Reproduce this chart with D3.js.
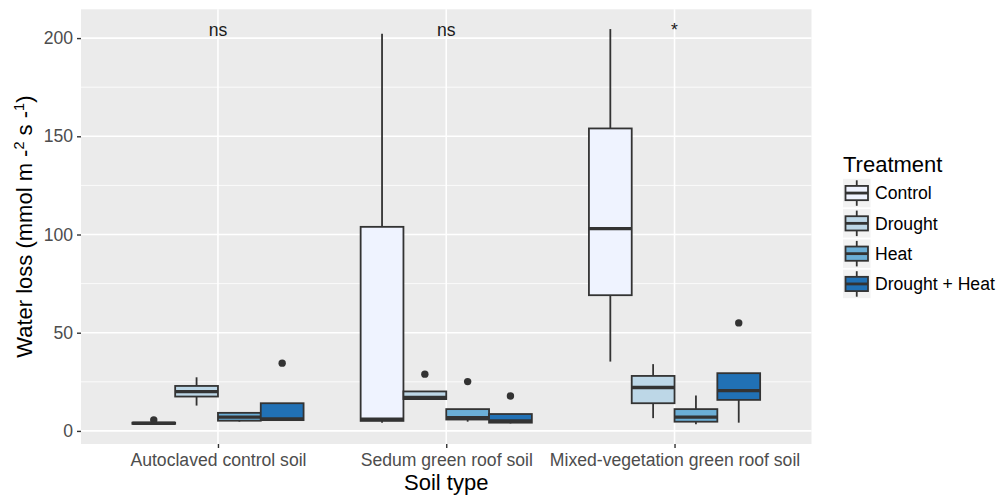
<!DOCTYPE html>
<html>
<head>
<meta charset="utf-8">
<script src="https://cdn.jsdelivr.net/npm/d3@7"></script>
<style>
  html, body { margin: 0; padding: 0; background: #ffffff; }
  svg { display: block; font-family: "Liberation Sans", Arial, Helvetica, sans-serif; }
</style>
</head>
<body>
<svg id="chart" width="997" height="496"></svg>
<script>
// Soil types on the x axis and treatments dodged within each soil type
const soils = ["Autoclaved control soil", "Sedum green roof soil", "Mixed-vegetation green roof soil"];
const treatments = ["Control", "Drought", "Heat", "Drought + Heat"];
const fills = ["#EFF3FF", "#BDD7E7", "#6BAED6", "#2171B5"];

// Box statistics, one row per soil type, one column per treatment
const whiskerLow = [
  [3.4, 12.9, 4.7, 5.2],
  [4.2, 15.8, 4.7, 3.8],
  [35.3, 6.5, 3.4, 4.2]
];
const q1 = [
  [3.6, 17.5, 5.2, 5.5],
  [5.1, 16.2, 5.8, 4.2],
  [69.1, 14.1, 4.7, 15.8]
];
const median = [
  [3.9, 20.0, 7.0, 6.1],
  [6.0, 17.0, 6.7, 5.1],
  [103.0, 22.1, 7.0, 20.5]
];
const q3 = [
  [4.2, 22.9, 9.2, 14.1],
  [103.9, 20.1, 11.1, 8.6],
  [154.0, 28.0, 11.1, 29.4]
];
const whiskerHigh = [
  [4.4, 27.3, 9.2, 14.1],
  [202.2, 20.1, 11.1, 8.6],
  [204.6, 34.0, 18.0, 29.4]
];
// Outlying points: [soil index, treatment index, value]
const outliers = [
  [0, 0, 5.6],
  [0, 3, 34.5],
  [1, 1, 28.9],
  [1, 2, 25.1],
  [1, 3, 17.8],
  [2, 3, 55.0]
];
// Significance labels above each soil type
const sigLabels = ["ns", "ns", "*"];
const sigLabelY = 205;

const yTicks = [0, 50, 100, 150, 200];
const yMinor = [25, 75, 125, 175];

const svg = d3.select("#chart");
const panel = { left: 81, right: 811.5, top: 9.3, bottom: 444 };
const tickFont = 17.6, titleFont = 22;

// y domain: data range with 5% expansion on each side
const allVals = [].concat(...whiskerLow, ...whiskerHigh, outliers.map(d => d[2]));
const [vMin, vMax] = d3.extent(allVals);
const pad = (vMax - vMin) * 0.05;
const y = d3.scaleLinear().domain([vMin - pad, vMax + pad]).range([panel.bottom, panel.top]);

const x = d3.scalePoint().domain(soils).range([panel.left, panel.right]).padding(0.6);
const step = x.step();
const dodge = d3.scaleBand().domain(treatments).range([-0.375 * step, 0.375 * step]);
const boxW = dodge.bandwidth();

// Panel background and grid
svg.append("rect")
  .attr("x", panel.left).attr("y", panel.top)
  .attr("width", panel.right - panel.left).attr("height", panel.bottom - panel.top)
  .attr("fill", "#EBEBEB");

const grid = svg.append("g");
grid.selectAll("line.minor").data(yMinor).enter().append("line")
  .attr("x1", panel.left).attr("x2", panel.right)
  .attr("y1", d => y(d)).attr("y2", d => y(d))
  .attr("stroke", "#ffffff").attr("stroke-width", 0.8);
grid.selectAll("line.majorY").data(yTicks).enter().append("line")
  .attr("x1", panel.left).attr("x2", panel.right)
  .attr("y1", d => y(d)).attr("y2", d => y(d))
  .attr("stroke", "#ffffff").attr("stroke-width", 1.6);
grid.selectAll("line.majorX").data(soils).enter().append("line")
  .attr("x1", d => x(d)).attr("x2", d => x(d))
  .attr("y1", panel.top).attr("y2", panel.bottom)
  .attr("stroke", "#ffffff").attr("stroke-width", 1.6);

// Build one record per box
const boxes = [];
soils.forEach((s, i) => treatments.forEach((t, j) => {
  boxes.push({
    soil: s, trt: t, fill: fills[j],
    lw: whiskerLow[i][j], q1: q1[i][j], med: median[i][j], q3: q3[i][j], uw: whiskerHigh[i][j],
    cx: x(s) + dodge(t) + boxW / 2
  });
}));

const ink = "#333333";
const lineW = 1.8;
const gBoxes = svg.append("g");
const gb = gBoxes.selectAll("g.box").data(boxes).enter().append("g");
gb.append("line")
  .attr("x1", d => d.cx).attr("x2", d => d.cx)
  .attr("y1", d => y(d.uw)).attr("y2", d => y(d.q3))
  .attr("stroke", ink).attr("stroke-width", lineW);
gb.append("line")
  .attr("x1", d => d.cx).attr("x2", d => d.cx)
  .attr("y1", d => y(d.q1)).attr("y2", d => y(d.lw))
  .attr("stroke", ink).attr("stroke-width", lineW);
gb.append("rect")
  .attr("x", d => d.cx - boxW / 2).attr("width", boxW)
  .attr("y", d => y(d.q3)).attr("height", d => Math.max(0, y(d.q1) - y(d.q3)))
  .attr("fill", d => d.fill).attr("stroke", ink).attr("stroke-width", lineW);
gb.append("line")
  .attr("x1", d => d.cx - boxW / 2).attr("x2", d => d.cx + boxW / 2)
  .attr("y1", d => y(d.med)).attr("y2", d => y(d.med))
  .attr("stroke", ink).attr("stroke-width", 3.4);

// Outliers
svg.append("g").selectAll("circle").data(outliers).enter().append("circle")
  .attr("cx", d => x(soils[d[0]]) + dodge(treatments[d[1]]) + boxW / 2)
  .attr("cy", d => y(d[2]))
  .attr("r", 3.7)
  .attr("fill", ink);

// Significance labels
svg.append("g").selectAll("text").data(sigLabels).enter().append("text")
  .attr("x", (d, i) => x(soils[i]))
  .attr("y", y(sigLabelY))
  .attr("dy", "0.45em")
  .attr("text-anchor", "middle")
  .attr("font-size", tickFont)
  .attr("fill", "#1a1a1a")
  .text(d => d);

// Axes
const yAxis = d3.axisLeft(y).tickValues(yTicks).tickSize(4).tickPadding(4);
const gy = svg.append("g").attr("transform", `translate(${panel.left},0)`).call(yAxis);
const xAxis = d3.axisBottom(x).tickSize(4).tickPadding(6);
const gx = svg.append("g").attr("transform", `translate(0,${panel.bottom})`).call(xAxis);
[gx, gy].forEach(g => {
  g.select(".domain").remove();
  g.selectAll(".tick line").attr("stroke", ink).attr("stroke-width", 1.4);
  g.selectAll(".tick text").attr("fill", "#4D4D4D").attr("font-size", tickFont)
    .attr("font-family", "\"Liberation Sans\", Arial, sans-serif");
});
gx.selectAll(".tick text").attr("dy", "0.71em");

// Axis titles
svg.append("text")
  .attr("x", (panel.left + panel.right) / 2).attr("y", 490)
  .attr("text-anchor", "middle").attr("font-size", titleFont).attr("fill", "#000")
  .text("Soil type");

const yt = svg.append("text")
  .attr("transform", `translate(31.5,${(panel.top + panel.bottom) / 2}) rotate(-90)`)
  .attr("text-anchor", "middle").attr("font-size", titleFont).attr("fill", "#000");
yt.append("tspan").text("Water loss (mmol m -");
yt.append("tspan").attr("dy", -8).attr("font-size", 14.5).text("2");
yt.append("tspan").attr("dy", 8).text(" s -");
yt.append("tspan").attr("dy", -8).attr("font-size", 14.5).text("1");
yt.append("tspan").attr("dy", 8).text(")");

// Legend
const lg = svg.append("g").attr("transform", "translate(843,0)");
lg.append("text").attr("x", 0).attr("y", 172).attr("font-size", titleFont).attr("fill", "#000").text("Treatment");
const keyW = 27.5, keyH = 28.5, keyStep = 30.3, keyTop = 178.8;
const items = lg.selectAll("g.item").data(treatments).enter().append("g")
  .attr("transform", (d, i) => `translate(0,${keyTop + i * keyStep})`);
items.append("rect").attr("width", keyW).attr("height", keyH).attr("fill", "#F2F2F2");
items.append("line").attr("x1", keyW / 2).attr("x2", keyW / 2).attr("y1", 1.5).attr("y2", keyH - 1.5)
  .attr("stroke", ink).attr("stroke-width", lineW);
items.append("rect").attr("x", 2.5).attr("width", keyW - 5).attr("y", keyH * 0.25).attr("height", keyH * 0.5)
  .attr("fill", (d, i) => fills[i]).attr("stroke", ink).attr("stroke-width", lineW);
items.append("line").attr("x1", 2.5).attr("x2", keyW - 2.5).attr("y1", keyH / 2).attr("y2", keyH / 2)
  .attr("stroke", ink).attr("stroke-width", 2.8);
items.append("text").attr("x", 32).attr("y", keyH / 2).attr("dy", "0.36em")
  .attr("font-size", tickFont).attr("fill", "#000").text(d => d);
</script>
</body>
</html>
